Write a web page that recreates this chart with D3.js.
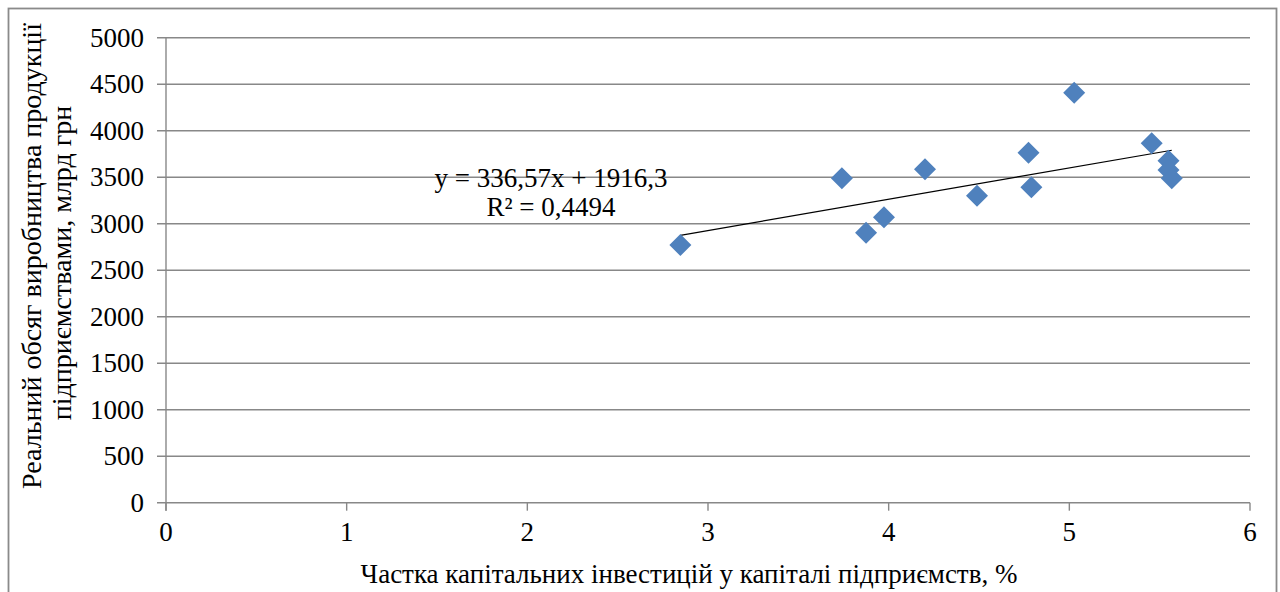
<!DOCTYPE html>
<html><head><meta charset="utf-8">
<script src="https://cdn.jsdelivr.net/npm/d3@7"></script>
</head>
<body style="margin:0;background:#fff">
<svg id="c" width="1280" height="592" style="display:block"></svg>
<script>
// Data
const xValues = [2.847, 3.741, 3.875, 3.974, 4.201, 4.489, 4.774, 4.790, 5.027, 5.456, 5.549, 5.549, 5.567];
const yValues = [2771, 3488, 2903, 3069, 3585, 3301, 3763, 3391, 4409, 3865, 3677, 3577, 3488];
const xTicks = [0, 1, 2, 3, 4, 5, 6];
const yTicks = [0, 500, 1000, 1500, 2000, 2500, 3000, 3500, 4000, 4500, 5000];
const trendSlope = 336.57;
const trendIntercept = 1916.3;
const eqLine1 = "y = 336,57x + 1916,3";
const eqLine2 = "R² = 0,4494";
const xTitle = "Частка капітальних інвестицій у капіталі підприємств, %";
const yTitle1 = "Реальний обсяг виробництва продукції";
const yTitle2 = "підприємствами, млрд грн";

const FONT = "'Liberation Serif', 'Times New Roman', serif";
const svg = d3.select("#c");
const L = 166, R = 1250, T = 37.7, B = 502.7;
const x = d3.scaleLinear().domain([0, 6]).range([L, R]);
const y = d3.scaleLinear().domain([0, 5000]).range([B, T]);
const grid = "#888888";
const fs = 27;

// outer frame
svg.append("rect").attr("x", 8.5).attr("y", 8.5).attr("width", 1268).attr("height", 600)
  .attr("fill", "none").attr("stroke", "#8a8a8a").attr("stroke-width", 1.8);

// horizontal gridlines + left ticks
svg.append("g").selectAll("line").data(yTicks).join("line")
  .attr("x1", L - 9).attr("x2", R)
  .attr("y1", d => y(d)).attr("y2", d => y(d))
  .attr("stroke", grid).attr("stroke-width", 1.4);

// y axis line
svg.append("line").attr("x1", L).attr("x2", L).attr("y1", T).attr("y2", B + 8)
  .attr("stroke", grid).attr("stroke-width", 1.4);

// x ticks
svg.append("g").selectAll("line").data(xTicks).join("line")
  .attr("x1", d => x(d)).attr("x2", d => x(d))
  .attr("y1", B).attr("y2", B + 8)
  .attr("stroke", grid).attr("stroke-width", 1.4);

function txt(sel, size) {
  const s = size || fs;
  return sel.attr("font-family", FONT).style("font-family", FONT)
    .attr("font-size", s).style("font-size", s + "px").attr("fill", "#000");
}

// y tick labels
txt(svg.append("g").selectAll("text").data(yTicks).join("text"))
  .attr("x", 144).attr("y", d => y(d)).attr("dy", "0.34em")
  .attr("text-anchor", "end")
  .text(d => d);

// x tick labels
txt(svg.append("g").selectAll("text").data(xTicks).join("text"))
  .attr("x", d => x(d)).attr("y", 541)
  .attr("text-anchor", "middle")
  .text(d => d);

// axis titles
txt(svg.append("text")).attr("x", 689).attr("y", 583).attr("text-anchor", "middle").text(xTitle);
txt(svg.append("text"), 28).attr("transform", "translate(41,256) rotate(-90)")
  .attr("text-anchor", "middle").text(yTitle1);
txt(svg.append("text"), 28).attr("transform", "translate(71,263) rotate(-90)")
  .attr("text-anchor", "middle").text(yTitle2);

// trendline
const xmin = d3.min(xValues), xmax = d3.max(xValues);
svg.append("line")
  .attr("x1", x(xmin)).attr("y1", y(trendSlope * xmin + trendIntercept))
  .attr("x2", x(xmax)).attr("y2", y(trendSlope * xmax + trendIntercept))
  .attr("stroke", "#000").attr("stroke-width", 1.2);

// points
const pts = xValues.map((v, i) => [v, yValues[i]]);
svg.append("g").selectAll("path").data(pts).join("path")
  .attr("transform", d => `translate(${x(d[0])},${y(d[1])})`)
  .attr("d", "M0,-11L11,0L0,11L-11,0Z")
  .attr("fill", "#4f81bd");

// equation
txt(svg.append("text")).attr("x", 551).attr("y", 187).attr("text-anchor", "middle").text(eqLine1);
txt(svg.append("text")).attr("x", 551).attr("y", 216).attr("text-anchor", "middle").text(eqLine2);
</script>
</body></html>
